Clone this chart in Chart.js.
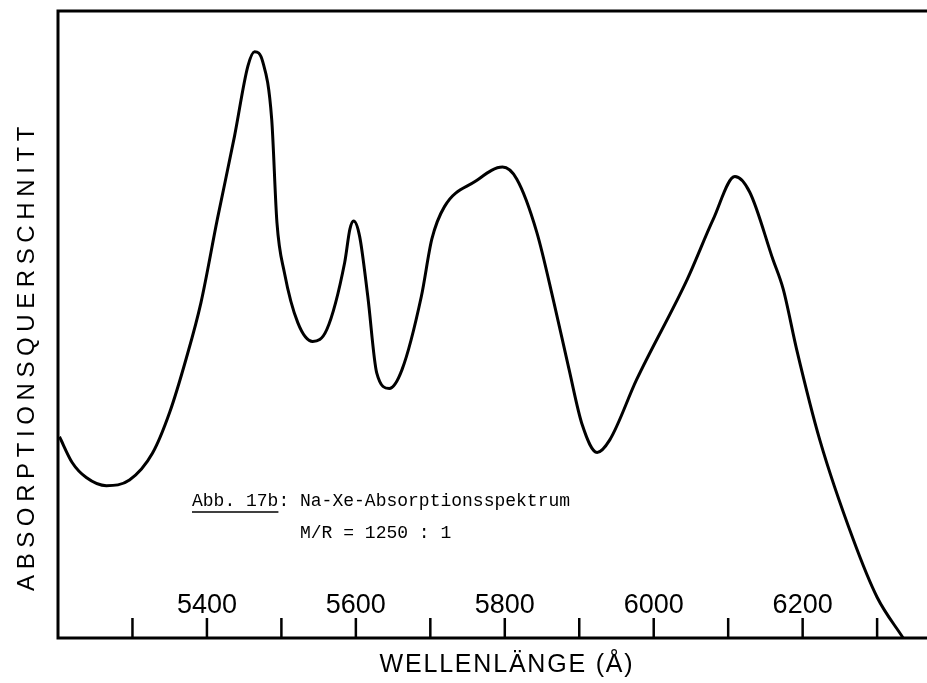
<!DOCTYPE html>
<html lang="de">
<head>
  <meta charset="UTF-8">
  <title>Na-Xe-Absorptionsspektrum</title>
  <script src="https://cdn.jsdelivr.net/npm/chart.js"></script>
  <style>
    body {
      margin: 0;
      background: #fff;
    }
    .chart-container {
      position: relative;
      width: 927px;
      height: 683px;
    }
  </style>
</head>
<body>
  <div class="chart-container">
    <canvas id="spectrumChart"></canvas>
  </div>

  <script>
    // wavelength in Angstrom
    const wavelengths = [
      5202, 5219, 5238, 5265, 5296, 5327, 5350, 5372, 5392, 5414,
      5437, 5455, 5464, 5475, 5487, 5494, 5504, 5522, 5542, 5561,
      5585, 5592, 5597, 5605, 5616, 5628, 5645, 5662, 5688, 5702,
      5719, 5760, 5797, 5816, 5843, 5866, 5886, 5904, 5924, 5941,
      5977, 6045, 6080, 6109, 6129, 6160, 6174, 6192, 6223, 6268,
      6300, 6335
    ];
    // absorption cross section, arbitrary units (0 = axis, 100 = top of frame)
    const crossSection = [
      32.1, 28.0, 25.6, 24.3, 25.2, 29.5, 36.0, 44.5, 53.5, 66.8,
      80.0, 91.2, 93.5, 91.9, 82.7, 66.3, 58.3, 50.3, 47.3, 49.2,
      59.9, 65.2, 66.5, 64.1, 54.5, 42.3, 39.8, 42.8, 54.5, 63.6,
      68.8, 72.8, 75.1, 73.2, 64.7, 53.5, 43.0, 34.0, 29.6, 31.6,
      41.2, 57.2, 66.8, 73.6, 71.1, 60.4, 55.6, 46.0, 31.6, 15.7,
      6.5, 0
    ];

    const tickValues = [5300, 5400, 5500, 5600, 5700, 5800, 5900, 6000, 6100, 6200, 6300];
    const tickLabels = [5400, 5600, 5800, 6000, 6200];

    const xTitle = 'WELLENLÄNGE (Å)';
    const yTitle = 'ABSORPTIONSQUERSCHNITT';
    const captionLines = ['Abb. 17b: Na-Xe-Absorptionsspektrum', '          M/R = 1250 : 1'];

    // frame, inward ticks, labels and captions in the old paper style
    const paperAxes = {
      id: 'paperAxes',
      afterDraw(chart) {
        const ctx = chart.ctx;
        const area = chart.chartArea;
        const x = chart.scales.x;
        ctx.save();
        ctx.strokeStyle = '#000';
        ctx.fillStyle = '#000';
        ctx.lineWidth = 3;
        ctx.lineCap = 'square';

        ctx.beginPath();
        ctx.moveTo(area.right, area.top);
        ctx.lineTo(area.left, area.top);
        ctx.lineTo(area.left, area.bottom);
        ctx.lineTo(area.right, area.bottom);
        ctx.stroke();

        ctx.lineWidth = 2.5;
        ctx.lineCap = 'butt';
        tickValues.forEach(v => {
          const px = x.getPixelForValue(v);
          ctx.beginPath();
          ctx.moveTo(px, area.bottom);
          ctx.lineTo(px, area.bottom - 20);
          ctx.stroke();
        });

        ctx.font = '27px "Liberation Sans", Arial, sans-serif';
        ctx.textAlign = 'center';
        ctx.textBaseline = 'middle';
        tickLabels.forEach(v => {
          ctx.fillText(String(v), x.getPixelForValue(v), area.bottom - 32);
        });

        ctx.font = '25px "Liberation Sans", Arial, sans-serif';
        ctx.letterSpacing = '1.8px';
        ctx.fillText(xTitle, 507, area.bottom + 27);

        ctx.save();
        ctx.translate(27, 356);
        ctx.rotate(-Math.PI / 2);
        ctx.font = '24px "Liberation Sans", Arial, sans-serif';
        ctx.letterSpacing = '5.6px';
        ctx.fillText(yTitle, 0, 0);
        ctx.restore();

        ctx.letterSpacing = '0px';
        ctx.font = '18px "Liberation Mono", "DejaVu Sans Mono", monospace';
        ctx.textAlign = 'left';
        ctx.textBaseline = 'alphabetic';
        ctx.fillText(captionLines[0], 192, 506);
        ctx.fillText(captionLines[1], 192, 538);
        const underline = ctx.measureText(captionLines[0].slice(0, 8)).width;
        ctx.lineWidth = 1.5;
        ctx.beginPath();
        ctx.moveTo(192, 512);
        ctx.lineTo(192 + underline, 512);
        ctx.stroke();
        ctx.restore();
      }
    };

    new Chart(document.getElementById('spectrumChart'), {
      type: 'line',
      data: {
        datasets: [{
          label: 'Na-Xe',
          data: wavelengths.map((w, i) => ({ x: w, y: crossSection[i] })),
          borderColor: '#000',
          borderWidth: 3,
          pointRadius: 0,
          fill: false,
          cubicInterpolationMode: 'monotone'
        }]
      },
      options: {
        responsive: true,
        maintainAspectRatio: false,
        animation: false,
        layout: {
          padding: { left: 58, top: 11, right: 0, bottom: 45 }
        },
        plugins: {
          legend: { display: false },
          tooltip: { enabled: false }
        },
        scales: {
          x: { type: 'linear', display: false, min: 5200, max: 6367 },
          y: { display: false, min: 0, max: 100 }
        }
      },
      plugins: [paperAxes]
    });
  </script>
</body>
</html>
